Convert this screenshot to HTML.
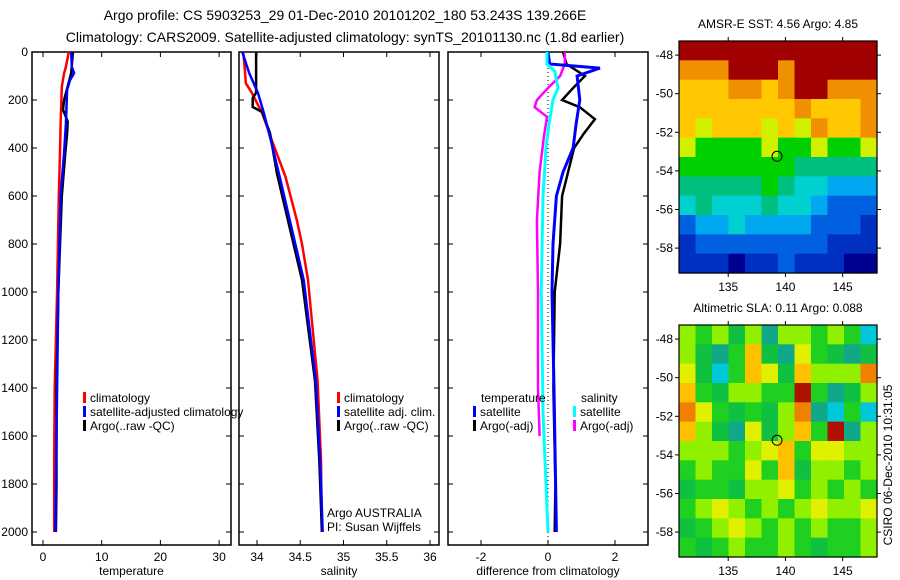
<!DOCTYPE html>
<html><head><meta charset="utf-8"><style>
html,body{margin:0;padding:0;background:#fff;}
svg{display:block;font-family:"Liberation Sans",sans-serif;}
</style></head><body>
<svg id="fig" width="900" height="580" viewBox="0 0 900 580" xmlns="http://www.w3.org/2000/svg">
<text x="345" y="20" font-size="14" text-anchor="middle">Argo profile: CS 5903253_29 01-Dec-2010 20101202_180 53.243S 139.266E</text>
<text x="345" y="42" font-size="14" text-anchor="middle">Climatology: CARS2009. Satellite-adjusted climatology: synTS_20101130.nc (1.8d earlier)</text>
<g id="g"></g>
</svg>
<script>
// ---- profile data ----
const tClimDepth=[0,62,88,145,300,420,600,1000,1400,1700,2000];
const tClimVal=[4.4,3.9,3.6,3.2,3.0,2.9,2.7,2.4,2.0,1.9,1.9];
const tSatDepth=[0,62,88,117,158,300,420,600,1000,1400,1600,2000];
const tSatVal=[4.8,4.9,5.3,4.6,4.1,3.9,3.6,3.0,2.6,2.4,2.3,2.1];
const tArgoDepth=[0,88,200,240,290,340,420,600,1000,1400,1800,2000];
const tArgoVal=[5.1,4.8,3.6,3.4,4.2,4.1,3.8,3.2,2.6,2.3,2.3,2.2];
const sClimDepth=[0,75,130,170,255,367,520,700,800,950,1370,1700,2000];
const sClimVal=[33.84,33.86,33.87,33.94,34.06,34.17,34.33,34.46,34.52,34.59,34.70,34.74,34.75];
const sSatDepth=[0,88,170,255,367,533,950,1370,1700,2000];
const sSatVal=[33.83,33.91,34.01,34.08,34.16,34.27,34.54,34.68,34.73,34.76];
const sArgoDepth=[0,170,192,229,250,338,505,950,1370,1700,2000];
const sArgoVal=[33.99,33.99,33.95,33.95,34.06,34.15,34.23,34.52,34.67,34.72,34.75];
const dTSatDepth=[0,50,67,100,200,300,400,500,600,800,1000,1400,2000];
const dTSatVal=[0.0,0.05,1.55,0.87,0.95,0.84,0.75,0.45,0.25,0.15,0.12,0.18,0.25];
const dTArgoDepth=[0,50,100,150,200,230,280,340,400,500,600,800,1000,1400,1800,2000];
const dTArgoVal=[0.45,0.55,1.1,0.75,0.42,0.95,1.4,1.07,0.78,0.6,0.42,0.36,0.2,0.16,0.22,0.2];
const dSSatDepth=[0,50,80,150,200,300,400,600,1000,1500,2000];
const dSSatVal=[-0.03,-0.03,0.2,0.3,0.15,0.03,-0.06,-0.15,-0.2,-0.15,0.0];
const dSArgoDepth=[0,50,100,150,200,230,270,350,500,700,1000,1400,1600];
const dSArgoVal=[0.5,0.5,0.36,0.0,-0.33,-0.4,-0.03,-0.12,-0.25,-0.33,-0.3,-0.3,-0.25];
const depthTicks=[0,200,400,600,800,1000,1200,1400,1600,1800,2000];
const tempTicks=[0,10,20,30];
const salTicks=[34,34.5,35,35.5,36];
const diffTicks=[-2,0,2];
// ---- map data ----
const lonTicks=[135,140,145];
const latTicks=[-48,-50,-52,-54,-56,-58];
const argoLon=139.266, argoLat=-53.243;
const sstPalette=['#000090','#0030c0','#0060e0','#00a8f0','#00d0d0','#00c080','#00d000','#d0f000','#ffc800','#f09000','#a00000'];
const sstGrid=[
[10,10,10,10,10,10,10,10,10,10,10,10],
[9,9,9,10,10,10,9,10,10,10,10,10],
[8,8,8,9,9,8,9,10,10,9,9,9],
[8,8,8,8,8,8,8,9,8,8,8,9],
[8,7,8,8,8,7,8,7,9,8,8,9],
[7,6,6,6,6,7,6,6,7,6,6,7],
[6,6,6,6,6,6,6,5,5,5,5,5],
[5,5,5,5,5,6,5,4,4,3,3,3],
[4,5,4,4,4,5,4,4,3,2,2,2],
[2,3,3,4,3,3,3,3,2,2,2,1],
[1,2,2,2,2,2,2,2,2,1,1,1],
[1,1,1,0,1,1,2,1,1,1,0,0]];
const slaPalette=['#00c8d8','#10a888','#10c040','#20d020','#90f000','#e0f000','#ffc000','#f08000','#b01000'];
const slaGrid=[
[4,3,4,2,4,1,4,4,3,4,3,0],
[4,2,1,3,6,2,1,5,3,2,1,2],
[5,2,0,3,6,5,2,6,4,4,4,7],
[6,3,2,4,4,3,3,8,3,1,2,4],
[7,5,3,2,3,2,4,7,1,0,3,0],
[6,4,2,1,5,2,4,6,3,8,1,4],
[4,4,4,3,4,5,6,3,5,5,4,4],
[3,4,3,3,5,3,6,2,4,4,3,4],
[2,3,3,2,4,4,5,3,4,3,4,3],
[3,4,5,4,3,4,3,4,5,4,4,5],
[2,3,4,5,4,3,4,3,4,3,3,4],
[3,2,3,4,3,3,4,3,2,3,3,4]];

const NS='http://www.w3.org/2000/svg';
const G=document.getElementById('g');
function mk(tag,attrs,parent,text){const e=document.createElementNS(NS,tag);for(const k in attrs)e.setAttribute(k,attrs[k]);if(text!==undefined)e.textContent=text;(parent||G).appendChild(e);return e;}
const yD=d=>52+d*0.24;
const pTop=52,pBot=545;
const panels=[
 {x0:32,x1:231,f:v=>43+v*5.87,ticks:tempTicks,label:'temperature',name:'temperature-panel'},
 {x0:239,x1:439,f:v=>257+(v-34)*86.5,ticks:salTicks,label:'salinity',name:'salinity-panel'},
 {x0:448,x1:648,f:v=>548+v*33.5,ticks:diffTicks,label:'difference from climatology',name:'difference-panel'}];
panels.forEach((p,i)=>{
 const g=mk('g',{});
 
 
 const r=mk('rect',{x:p.x0,y:pTop,width:p.x1-p.x0,height:pBot-pTop,fill:'none',stroke:'#000','stroke-width':1.5},g);
 
 
 p.ticks.forEach(t=>{const x=p.f(t);
  mk('line',{x1:x,x2:x,y1:pTop,y2:pTop+5,stroke:'#000'},g);
  mk('line',{x1:x,x2:x,y1:pBot,y2:pBot-5,stroke:'#000'},g);
  const tl=mk('text',{x:x,y:pBot+16,'font-size':12,'text-anchor':'middle'},g,String(t));
  
  });
 depthTicks.forEach(d=>{const y=yD(d);
  mk('line',{x1:p.x0,x2:p.x0+5,y1:y,y2:y,stroke:'#000'},g);
  mk('line',{x1:p.x1,x2:p.x1-5,y1:y,y2:y,stroke:'#000'},g);
  if(i===0){const tl=mk('text',{x:28,y:y+4,'font-size':12,'text-anchor':'end'},g,String(d));
   
   }});
 const al=mk('text',{x:(p.x0+p.x1)/2,y:575,'font-size':12,'text-anchor':'middle'},g,p.label);
 
 
});
function series(pi,depths,vals,color,name,w){
 const p=panels[pi];
 const pts=depths.map((d,k)=>p.f(vals[k]).toFixed(1)+','+yD(d).toFixed(1)).join(' ');
 const e=mk('polyline',{points:pts,fill:'none',stroke:color,'stroke-width':w||2.5});
 
 
}
const zl=mk('line',{x1:548,x2:548,y1:pTop,y2:pBot,stroke:'#000','stroke-dasharray':'1,3'});


series(0,tClimDepth,tClimVal,'#f00','temp-climatology-line');
series(0,tArgoDepth,tArgoVal,'#000','temp-argo-line');
series(0,tSatDepth,tSatVal,'#00f','temp-satellite-line');
series(1,sClimDepth,sClimVal,'#f00','sal-climatology-line');
series(1,sArgoDepth,sArgoVal,'#000','sal-argo-line');
series(1,sSatDepth,sSatVal,'#00f','sal-satellite-line');
series(2,dTArgoDepth,dTArgoVal,'#000','diff-temp-argo-line');
series(2,dSArgoDepth,dSArgoVal,'#f0f','diff-sal-argo-line');
series(2,dTSatDepth,dTSatVal,'#00f','diff-temp-satellite-line',3);
series(2,dSSatDepth,dSSatVal,'#0ff','diff-sal-satellite-line',3);
function leg(x,y,color,txt){
 const b=mk('rect',{x:x,y:y-10,width:3,height:11,fill:color});
 
 
 const t=mk('text',{x:x+7,y:y,'font-size':12},G,txt);
 
 
}
leg(83,402,'#f00','climatology');leg(83,416,'#00f','satellite-adjusted climatology');leg(83,430,'#000','Argo(..raw -QC)');
leg(337,402,'#f00','climatology');leg(337,416,'#00f','satellite adj. clim.');leg(337,430,'#000','Argo(..raw -QC)');
const lt=mk('text',{x:481,y:402,'font-size':12},G,'temperature');
const ls=mk('text',{x:581,y:402,'font-size':12},G,'salinity');
leg(473,416,'#00f','satellite');leg(473,430,'#000','Argo(-adj)');
leg(573,416,'#0ff','satellite');leg(573,430,'#f0f','Argo(-adj)');
const a1=mk('text',{x:327,y:517,'font-size':12},G,'Argo AUSTRALIA');
const a2=mk('text',{x:327,y:531,'font-size':12},G,'PI: Susan Wijffels');

// ---- maps ----
const lonMin=130.7,lonMax=148.0;
const mx0=679,mx1=877;
const lx=lon=>mx0+(lon-lonMin)*(mx1-mx0)/(lonMax-lonMin);
function map(top0,grid,pal,title,name){
 const latTop=-47.27, pxDeg=19.3, h=232;
 const ly=lat=>top0+(latTop-lat)*pxDeg;
 const g=mk('g',{});
 
 
 const rows=grid.length,cols=grid[0].length;
 const cw=(mx1-mx0)/cols,ch=h/rows;
 grid.forEach((row,r)=>row.forEach((v,c)=>{
  const cell=mk('rect',{x:(mx0+c*cw).toFixed(2),y:(top0+r*ch).toFixed(2),width:(cw+0.6).toFixed(2),height:(ch+0.6).toFixed(2),fill:pal[v]},g);
  
  }));
 const fr=mk('rect',{x:mx0,y:top0,width:mx1-mx0,height:h,fill:'none',stroke:'#000','stroke-width':1.2},g);
 
 
 lonTicks.forEach(l=>{const x=lx(l);
  mk('line',{x1:x,x2:x,y1:top0,y2:top0-4,stroke:'#000'},g);
  mk('line',{x1:x,x2:x,y1:top0+h,y2:top0+h+4,stroke:'#000'},g);
  const t=mk('text',{x:x,y:top0+h+18,'font-size':12,'text-anchor':'middle'},g,String(l));
  
  });
 latTicks.forEach(l=>{const y=ly(l);
  mk('line',{x1:mx0,x2:mx0-4,y1:y,y2:y,stroke:'#000'},g);
  mk('line',{x1:mx1,x2:mx1+4,y1:y,y2:y,stroke:'#000'},g);
  const t=mk('text',{x:673,y:y+4,'font-size':12,'text-anchor':'end'},g,String(l));
  
  });
 const c=mk('circle',{cx:lx(argoLon),cy:ly(argoLat),r:5,fill:'none',stroke:'#000','stroke-width':1},g);
 
 
 const t=mk('text',{x:(mx0+mx1)/2,y:top0-13,'font-size':12,'text-anchor':'middle'},g,title);
 
 
}
map(41,sstGrid,sstPalette,'AMSR-E SST: 4.56 Argo: 4.85','sst-map');
map(325,slaGrid,slaPalette,'Altimetric SLA: 0.11 Argo: 0.088','sla-map');
const cs=mk('text',{x:0,y:0,'font-size':12,'text-anchor':'middle',transform:'translate(892,465) rotate(-90)'},G,'CSIRO 06-Dec-2010 10:31:05');


</script>
</body></html>
